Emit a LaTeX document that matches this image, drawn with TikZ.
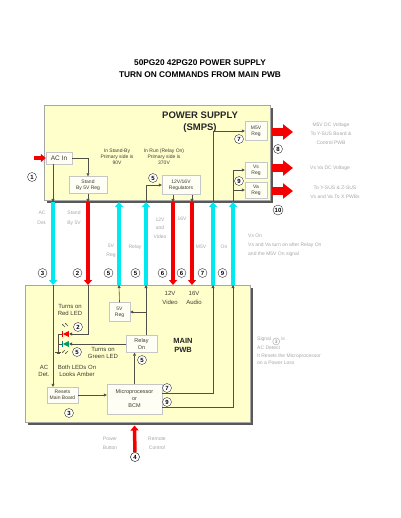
\documentclass[tikz,border=0pt]{standalone}
\usepackage{fontspec}
\setmainfont{Liberation Sans}
\usetikzlibrary{arrows.meta, positioning, shapes.geometric, calc, shadows}
\definecolor{panelfill}{RGB}{255,255,204}
\definecolor{cyanline}{RGB}{0,232,240}
\definecolor{redline}{RGB}{245,0,0}
\definecolor{wiregray}{RGB}{80,80,70}
\definecolor{labeltext}{RGB}{60,60,50}

\begin{document}
\begin{tikzpicture}[x=1pt,y=-1pt,
  panel/.style={draw=gray!70,fill=panelfill,line width=0.5pt,inner sep=0pt,
    drop shadow={shadow xshift=3pt,shadow yshift=-3pt,fill=black!65,opacity=1}},
  blk/.style={draw=gray!45,fill=white!96!yellow,align=center,inner sep=0pt,
    text=labeltext,font=\fontsize{5}{6}\selectfont},
  num/.style={circle,draw=black!80,fill=white,inner sep=0pt,minimum size=9pt,
    font=\fontsize{6}{6}\selectfont\bfseries},
  txt/.style={align=center,text=labeltext,font=\fontsize{5}{6}\selectfont,inner sep=0pt},
  ghost/.style={align=center,text=black!35,font=\fontsize{5}{9}\selectfont,inner sep=0pt},
  wire/.style={draw=wiregray,line width=0.6pt},
  tip/.style={-{Triangle[length=3pt,width=3pt]}},
  cyanarr/.style={draw=cyanline,line width=3.5pt,-{Triangle[length=5pt,width=8pt]}},
  redarr/.style={draw=redline,line width=3.5pt,-{Triangle[length=5pt,width=8pt]}},
  bigarrow/.style={draw=redline,line width=8pt,-{Triangle[length=10pt,width=15pt]}},
  led/.style={isosceles triangle,isosceles triangle stretches=true,shape border rotate=180,
    minimum width=6pt,minimum height=6pt,inner sep=0pt,draw=none}]

\useasboundingbox (0,0) rectangle (400,518);

\node[align=center,font=\fontsize{8.3}{12}\selectfont\bfseries] (title) at (200,69)
  {50PG20 42PG20 POWER SUPPLY\\TURN ON COMMANDS FROM MAIN PWB};

\node[panel,anchor=north west,minimum width=226pt,minimum height=95pt] (smps) at (44,105) {};
\node[panel,anchor=north west,minimum width=225pt,minimum height=137pt] (pwb) at (25,285) {};

\node[align=center,font=\fontsize{9.5}{12}\selectfont\bfseries,text=black!85] (smpsname) at (200,122)
  {POWER SUPPLY\\(SMPS)};
\node[txt] (standbytxt) at (117,157) {In Stand-By\\Primary side is\\90V};
\node[txt] (runtxt) at (164,157) {In Run (Relay On)\\Primary side is\\370V};

\node[blk,minimum width=26pt,minimum height=12pt,font=\fontsize{6.5}{7}\selectfont] (acin) at (59,158) {AC In};
\node[blk,minimum width=38pt,minimum height=17pt] (standby) at (88,185) {Stand\\By 5V Reg};
\node[blk,minimum width=38pt,minimum height=19pt] (reg) at (181,185) {12V/16V\\Regulators};
\node[blk,minimum width=22pt,minimum height=19pt] (m5v) at (256,131) {M5V\\Reg};
\node[blk,minimum width=22pt,minimum height=16pt] (vsreg) at (256,170) {Vs\\Reg};
\node[blk,minimum width=22pt,minimum height=16pt] (vareg) at (256,190) {Va\\Reg};

% columns between the two boards
\foreach \n/\x in {ac/53,sb/88,ra/119,rb/146,va/173,vb/192,m5/213,vs/233}{
  \coordinate (\n-t) at (\x,202);
  \coordinate (\n-b) at (\x,285);
}

\draw[cyanarr] (ac-t) -- (ac-b);
\draw[redarr] (sb-t) -- (sb-b);
\draw[cyanarr] (ra-b) -- (ra-t);
\draw[cyanarr] (rb-b) -- (rb-t);
\draw[redarr] (va-t) -- (va-b);
\draw[redarr] (vb-t) -- (vb-b);
\draw[cyanarr] (m5-b) -- (m5-t);
\draw[cyanarr] (vs-b) -- (vs-t);

\coordinate (acsrc) at (34,158);
\draw[redarr] (acsrc) -- (acin.west);

\draw[wire,tip] (acin.east) -| (standby.north);
\draw[wire,tip] (acin.south -| ac-t) -- (ac-t);
\draw[wire,tip] (standby.south -| sb-t) -- (sb-t);
\draw[wire,tip] (va-t |- reg.south) -- (va-t);
\draw[wire,tip] (vb-t |- reg.south) -- (vb-t);
\draw[wire,tip] (rb-t) |- (reg.west);
\draw[wire,tip] (m5-t) |- (m5v.west);
\draw[wire,tip] (vs-t) |- (vsreg.west);
\draw[wire,tip] (vs-t) |- (vareg.west);

\coordinate (o8) at (272,132);
\coordinate (e8) at (293,132);
\coordinate (ovs) at (272,168);
\coordinate (evs) at (293,168);
\coordinate (ova) at (272,191);
\coordinate (eva) at (293,191);
\draw[bigarrow] (o8) -- (e8);
\draw[bigarrow] (ovs) -- (evs);
\draw[bigarrow] (ova) -- (eva);

\node[num] (n1) at (32,177) {1};
\node[num] (n5a) at (153,178) {5};
\node[num] (n7a) at (239,139) {7};
\node[num] (n9a) at (239,181) {9};
\node[num] (n8) at (278,149) {8};
\node[num,minimum size=10pt] (n10) at (278,210) {10};

\node[ghost] (g8) at (331,134) {M5V DC Voltage\\To Y-SUS Board \&\\Control PWB};
\node[ghost] (gvs) at (330,168) {Vs Va DC Voltage};
\node[ghost] (gva) at (335,192) {To Y-SUS \& Z-SUS\\Vs and Va To X PWBs};

% labels on the columns
\foreach \n/\k in {ac/3,sb/2,ra/5,rb/5,va/6,vb/6,m5/7,vs/9}{
  \node[num] (c\n) at ($(\n-b)+(-10.5,-12)$) {\k};
}
\node[ghost,font=\fontsize{5}{10}\selectfont] (gac) at (42,218) {AC\\Det.};
\node[ghost,font=\fontsize{5}{10}\selectfont] (gsb) at (74,218) {Stand\\By 5V};
\node[ghost] (gra) at (111,251) {5V\\Reg};
\node[ghost] (grb) at (135,247) {Relay};
\node[ghost,font=\fontsize{5}{8.5}\selectfont] (g12) at (160,228) {12V\\and\\Video};
\node[ghost] (g16) at (182,219) {16V};
\node[ghost] (gm5) at (201,247) {M5V};
\node[ghost] (gon) at (224,247) {On};
\node[ghost,align=left,anchor=north west] (gnote) at (248,234)
  {Vs On\\Vs and Va turn on after Relay On\\and the M5V On signal};
\node[ghost,align=left,anchor=north west,font=\fontsize{5}{7.5}\selectfont] (gdet) at (257,337)
  {Signal \tikz[baseline=-2pt]\node[num,minimum size=7pt,font=\fontsize{5}{5}\selectfont\bfseries,draw=black!35,text=black!35]{3}; is\\AC Detect\\It Resets the Microprocessor\\on a Power Loss};

% main board
\node[align=center,font=\fontsize{7.5}{9}\selectfont\bfseries,text=black!85] (mainname) at (183,345) {MAIN\\PWB};
\node[txt,font=\fontsize{6}{9}\selectfont] (v12) at (170,298) {12V\\Video};
\node[txt,font=\fontsize{6}{9}\selectfont] (v16) at (194,298) {16V\\Audio};

\node[blk,minimum width=21pt,minimum height=19pt] (vreg) at (119.5,312) {5V\\Reg};
\node[blk,minimum width=31pt,minimum height=17pt,font=\fontsize{5.5}{7}\selectfont] (relay) at (141.5,344) {Relay\\On};
\node[blk,minimum width=31pt,minimum height=16pt] (resets) at (62.5,395) {Resets\\Main Board};
\node[blk,minimum width=55pt,minimum height=30pt,font=\fontsize{5.5}{7}\selectfont] (micro) at (134.5,399) {Microprocessor\\or\\BCM};

\node[led,fill=red] (redled) at (67,334) {};
\node[led,fill=teal!80!green] (grnled) at (67,344) {};
\draw[line width=0.8pt,draw=redline] ($(redled.apex)+(0,-3)$) -- ($(redled.apex)+(0,3)$);
\draw[line width=0.8pt,draw=teal] ($(grnled.apex)+(0,-3)$) -- ($(grnled.apex)+(0,3)$);
\coordinate (gnd) at (58,352);
\draw[wire] (redled.apex) -- (redled.apex -| gnd) -- (gnd);
\draw[wire] (grnled.apex) -- (grnled.apex -| gnd);
\draw[wire] ($(gnd)+(-3,0)$) -- ($(gnd)+(3,0)$);
\draw[wire] ($(gnd)+(-1.5,1.5)$) -- ($(gnd)+(1.5,1.5)$);
\draw[wire,-{Stealth[length=1.6pt]}] (65,327) -- (62,324);
\draw[wire,-{Stealth[length=1.6pt]}] (68,326) -- (65,323);
\draw[wire,-{Stealth[length=1.6pt]}] (65,350) -- (62,353);
\draw[wire,-{Stealth[length=1.6pt]}] (68,351) -- (65,354);

\coordinate (j5) at (146,312);
\coordinate (r7) at (213,393);
\coordinate (r9) at (233,407);

\draw[wire,tip] (ac-b) -- (resets.north -| ac-b);
\draw[wire,tip] (sb-b) |- (redled.east);
\draw[wire,tip] (vreg.north) -- (ra-b);
\draw[wire,tip] (relay.north -| j5) -- (rb-b);
\draw[wire,tip] (j5) -- (vreg.east);
\draw[wire,tip] (relay.west) -- (grnled.east);
\draw[wire,tip] (resets.east) -- (resets.east -| micro.west);
\draw[wire,tip] (micro.north) -- (micro.north |- relay.south);
\draw[wire,tip] (micro.east |- r7) -- (r7) -- (m5-b);
\draw[wire,tip] (micro.east |- r9) -- (r9) -- (vs-b);

\node[txt,font=\fontsize{6}{7.5}\selectfont] (redtxt) at (70,310) {Turns on\\Red LED};
\node[txt,font=\fontsize{6}{7.5}\selectfont] (grntxt) at (103,353) {Turns on\\Green LED};
\node[txt,font=\fontsize{6}{7.5}\selectfont] (ambtxt) at (77,371) {Both LEDs On\\Looks Amber};
\node[txt,font=\fontsize{6}{7.5}\selectfont] (dettxt) at (44,371) {AC\\Det.};

\node[num] (m2) at (78,327) {2};
\node[num] (m5) at (77,352) {5};
\node[num] (m3) at (69,413) {3};
\node[num] (m5b) at (142,360) {5};
\node[num] (m7) at (167,388) {7};
\node[num] (m9) at (167,402) {9};

% power button / remote
\coordinate (pbtip) at ($(micro.south |- pwb.south)+(0,3)$);
\node[num] (n4) at (135,457) {4};
\draw[redarr] (n4) -- (pbtip);
\node[num] at (n4) {4};
\node[ghost] (gpow) at (110,443) {Power\\Button};
\node[ghost] (grem) at (157,443) {Remote\\Control};

\end{tikzpicture}
\end{document}
